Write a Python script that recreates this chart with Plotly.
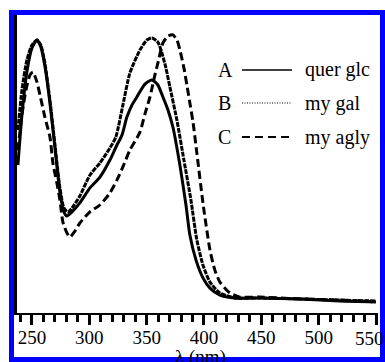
import plotly.graph_objects as go

# Wavelength (nm) and relative absorbance
wl_A = [237.8, 241.3, 245.6, 250.0, 254.4, 257.8, 261.3, 265.7, 270.1, 274.4, 277.9, 280.5,
        284.9, 291.8, 300.6, 309.3, 318.0, 324.1, 328.5, 332.8, 337.2, 341.5, 348.5, 354.6,
        359.8, 364.2, 368.6, 372.9, 379.0, 384.3, 387.7, 393.0, 399.1, 405.2, 413.9, 427.0,
        448.8, 483.6, 518.5, 549.9]
abs_A = [0.493, 0.660, 0.803, 0.883, 0.910, 0.887, 0.823, 0.700, 0.550, 0.403, 0.337, 0.323,
         0.337, 0.367, 0.417, 0.453, 0.510, 0.560, 0.593, 0.653, 0.693, 0.720, 0.763, 0.777,
         0.760, 0.720, 0.677, 0.620, 0.493, 0.360, 0.260, 0.177, 0.117, 0.083, 0.060, 0.050,
         0.050, 0.047, 0.040, 0.037]

wl_B = [237.8, 241.3, 245.6, 250.0, 254.4, 257.8, 261.3, 265.7, 270.1, 274.4, 277.9, 281.4,
        284.9, 291.8, 300.6, 309.3, 318.0, 323.2, 329.3, 335.4, 344.2, 350.3, 354.6, 359.8,
        363.3, 366.8, 370.3, 376.4, 382.5, 388.6, 393.8, 399.1, 405.2, 413.9, 427.0, 448.8,
        483.6, 518.5, 549.9]
abs_B = [0.610, 0.743, 0.843, 0.893, 0.910, 0.893, 0.833, 0.710, 0.560, 0.417, 0.350, 0.337,
         0.350, 0.390, 0.460, 0.500, 0.550, 0.587, 0.693, 0.800, 0.877, 0.910, 0.917, 0.903,
         0.867, 0.817, 0.753, 0.643, 0.510, 0.377, 0.243, 0.160, 0.103, 0.067, 0.050, 0.050,
         0.047, 0.043, 0.040]

wl_C = [237.8, 241.3, 244.8, 248.3, 250.9, 254.4, 257.0, 261.3, 265.7, 268.3, 271.8, 274.4,
        277.0, 280.5, 283.1, 287.5, 291.8, 300.6, 309.3, 318.0, 324.1, 329.3, 335.4, 344.2,
        348.5, 352.9, 357.2, 359.8, 364.2, 368.6, 372.9, 376.4, 379.0, 382.5, 385.1, 387.7,
        390.4, 393.8, 399.1, 405.2, 409.5, 413.9, 422.6, 431.3, 448.8, 483.6, 518.5, 549.9]
abs_C = [0.543, 0.660, 0.743, 0.793, 0.803, 0.770, 0.727, 0.653, 0.587, 0.500, 0.433, 0.377,
         0.303, 0.267, 0.253, 0.273, 0.300, 0.337, 0.360, 0.400, 0.443, 0.487, 0.543, 0.603,
         0.663, 0.720, 0.793, 0.833, 0.900, 0.923, 0.927, 0.910, 0.877, 0.817, 0.760, 0.700,
         0.637, 0.533, 0.367, 0.210, 0.143, 0.103, 0.067, 0.053, 0.053, 0.047, 0.043, 0.037]

x_ticks = [250, 300, 350, 400, 450, 500, 550]
legend_letters = ["A", "B", "C"]
legend_names = ["quer glc", "my gal", "my agly"]

FONT = "Liberation Serif"
W, H = 385, 362
L, R, T, B = 17, 7, 13, 49
PW, PH = W - L - R, H - T - B


def px_x(px):
    return (px - L) / PW


def px_y(py):
    return (H - B - py) / PH


fig = go.Figure()
fig.add_trace(go.Scatter(x=wl_A, y=abs_A, mode="lines",
                         line=dict(color="black", width=3, shape="spline", smoothing=0.6)))
fig.add_trace(go.Scatter(x=wl_B, y=abs_B, mode="lines",
                         line=dict(color="black", width=3, dash="5px,1px", shape="spline", smoothing=0.6)))
fig.add_trace(go.Scatter(x=wl_C, y=abs_C, mode="lines",
                         line=dict(color="black", width=3, dash="8px,4px", shape="spline", smoothing=0.6)))

shapes = []
# legend samples
rows_py = [70, 103, 137]
dashes = ["solid", "1px,1.5px", "8px,5px"]
widths = [1.6, 1.2, 2]
for py, d, w in zip(rows_py, dashes, widths):
    shapes.append(dict(type="line", xref="paper", yref="paper",
                       x0=px_x(242), x1=px_x(292), y0=px_y(py), y1=px_y(py),
                       line=dict(color="black", width=w, dash=d)))
# blue frame
shapes.append(dict(type="rect", xref="paper", yref="paper",
                   x0=px_x(11.5), x1=px_x(382.5), y0=px_y(359.5), y1=px_y(12.5),
                   line=dict(color="#0000ff", width=5), layer="above"))

annotations = []
for py, letter, name in zip(rows_py, legend_letters, legend_names):
    annotations.append(dict(xref="paper", yref="paper", x=px_x(216), y=px_y(py),
                            text=letter, showarrow=False, xanchor="left", yanchor="middle",
                            font=dict(family=FONT, size=20, color="black")))
    annotations.append(dict(xref="paper", yref="paper", x=px_x(303), y=px_y(py),
                            text=name, showarrow=False, xanchor="left", yanchor="middle",
                            font=dict(family=FONT, size=20, color="black")))
annotations.append(dict(xref="paper", yref="paper", x=px_x(200), y=px_y(344),
                        text="λ (nm)", showarrow=False, xanchor="center", yanchor="top",
                        font=dict(family=FONT, size=19, color="black")))
# last tick label: kept inside the page (its right part sits under the frame)
last_tick = x_ticks[-1]
annotations.append(dict(xref="paper", yref="paper", x=px_x(386), y=px_y(338),
                        text=str(last_tick), showarrow=False, xanchor="right", yanchor="middle",
                        font=dict(family=FONT, size=19, color="black")))

tick_text = [str(v) for v in x_ticks[:-1]] + [""]

fig.update_layout(
    width=W, height=H,
    margin=dict(l=L, r=R, t=T, b=B),
    paper_bgcolor="white", plot_bgcolor="white",
    showlegend=False,
    shapes=shapes, annotations=annotations,
    xaxis=dict(range=[237, 551.7], tickmode="array", tickvals=x_ticks,
               ticktext=tick_text,
               ticks="outside", ticklen=10, tickwidth=2.5, tickcolor="black",
               ticklabelstandoff=-4,
               showline=True, linecolor="black", linewidth=2,
               showgrid=False, zeroline=False,
               tickfont=dict(family=FONT, size=19, color="black"),
               minor=dict(dtick=10, tick0=250, ticks="outside", ticklen=7, tickwidth=2.5,
                          tickcolor="black", showgrid=False)),
    yaxis=dict(range=[0, 1], showticklabels=False, ticks="", showgrid=False, zeroline=False,
               showline=True, linecolor="black", linewidth=3),
)

fig.write_html("out.html")
